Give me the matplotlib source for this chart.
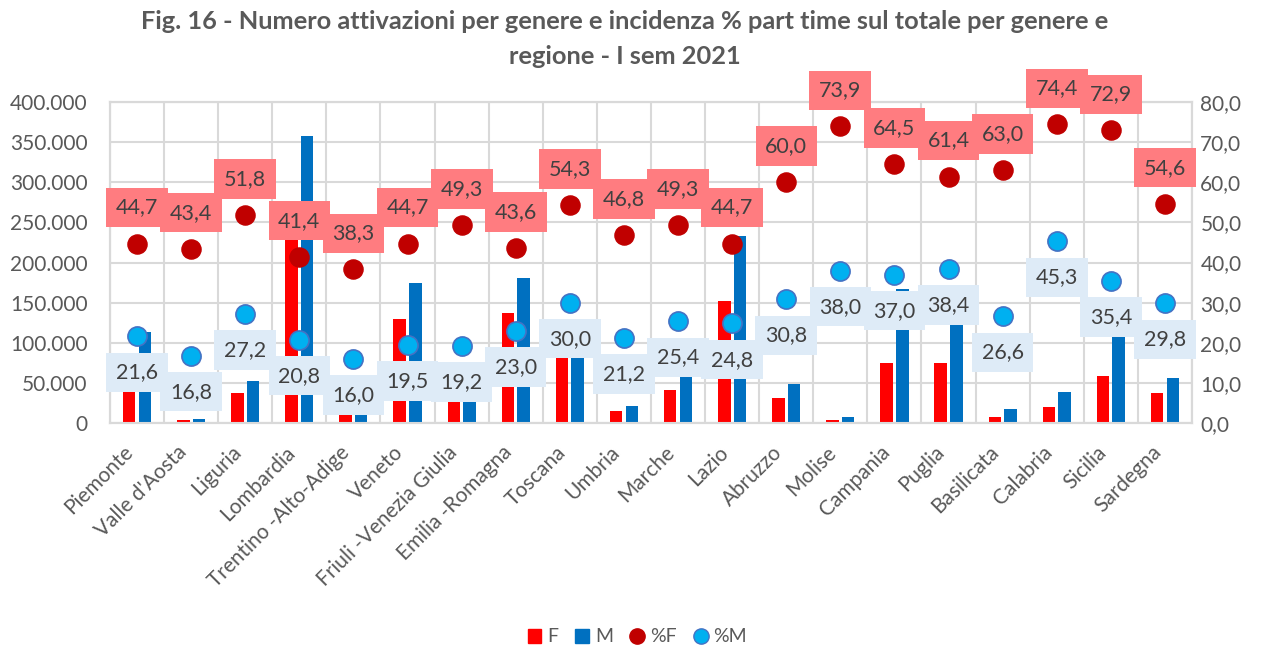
import numpy as np
import matplotlib.pyplot as plt
from matplotlib import ticker
from matplotlib.lines import Line2D
from matplotlib.patches import Patch

plt.rcParams['font.family'] = ['Lato', 'DejaVu Sans']

regioni = ['Piemonte', "Valle d'Aosta", 'Liguria', 'Lombardia', 'Trentino -Alto-Adige',
           'Veneto', 'Friuli -Venezia Giulia', 'Emilia -Romagna', 'Toscana', 'Umbria',
           'Marche', 'Lazio', 'Abruzzo', 'Molise', 'Campania', 'Puglia', 'Basilicata',
           'Calabria', 'Sicilia', 'Sardegna']
att_F = [40000, 3500, 37500, 235000, 12000, 129000, 28000, 137000, 85000, 15000,
         41500, 152500, 31000, 3700, 75000, 75000, 7500, 20000, 58500, 38000]
att_M = [113000, 5000, 52000, 358000, 14000, 174000, 30000, 181000, 90000, 21500,
         58000, 232500, 48000, 7000, 166500, 130000, 18000, 38500, 110000, 56000]
pt_F = [44.7, 43.4, 51.8, 41.4, 38.3, 44.7, 49.3, 43.6, 54.3, 46.8,
        49.3, 44.7, 60.0, 73.9, 64.5, 61.4, 63.0, 74.4, 72.9, 54.6]
pt_M = [21.6, 16.8, 27.2, 20.8, 16.0, 19.5, 19.2, 23.0, 30.0, 21.2,
        25.4, 24.8, 30.8, 38.0, 37.0, 38.4, 26.6, 45.3, 35.4, 29.8]

c_F = '#FF0000'
c_M = '#0070C0'
c_pF = '#C00000'
c_pM = '#00B0F0'
txt = '#595959'

fig = plt.figure(figsize=(12.67, 6.5), dpi=100)
ax = fig.add_axes([0.0868, 0.3492, 0.854, 0.4939])
ax2 = ax.twinx()

x = np.arange(len(regioni))
w = 0.23
ax.bar(x - 0.145, att_F, w, color=c_F, zorder=3)
ax.bar(x + 0.145, att_M, w, color=c_M, zorder=3)

ax.set_xlim(-0.5, len(regioni) - 0.5)
ax.set_ylim(0, 400000)
ax2.set_ylim(0, 80)
ax.yaxis.set_major_locator(ticker.MultipleLocator(50000))
ax2.yaxis.set_major_locator(ticker.MultipleLocator(10))
ax.yaxis.set_major_formatter(ticker.FuncFormatter(lambda v, p: f'{int(v):,}'.replace(',', '.')))
ax2.yaxis.set_major_formatter(ticker.FuncFormatter(lambda v, p: f'{v:.1f}'.replace('.', ',')))

# grid: horizontal at ticks, vertical between categories
ax.set_xticks(x)
ax.set_xticks(np.arange(len(regioni) + 1) - 0.5, minor=True)
ax.grid(True, which='major', axis='y', color='#D9D9D9', lw=1.5, zorder=0)
ax.grid(True, which='minor', axis='x', color='#D9D9D9', lw=1.5, zorder=0)
ax.set_xticklabels(regioni, rotation=45, ha='right', va='bottom', rotation_mode='anchor',
                   fontsize=15, color=txt)
ax.tick_params(axis='x', which='both', length=0, pad=24)
ax.tick_params(axis='y', length=0, labelsize=15, labelcolor=txt, pad=16)
ax2.tick_params(axis='y', length=0, labelsize=15, labelcolor=txt, pad=6)
for a in (ax, ax2):
    for s in a.spines.values():
        s.set_color('#D9D9D9')
        s.set_linewidth(1.5)

ax2.scatter(x, pt_F, s=190, color=c_pF, zorder=4)
ax2.scatter(x, pt_M, s=190, color=c_pM, edgecolor='#4472C4', linewidth=1.2, zorder=4)

for xi, v in zip(x, pt_F):
    ax2.annotate(f'{v:.1f}'.replace('.', ','), (xi, v), xytext=(0, 26), textcoords='offset points',
                 ha='center', va='center', fontsize=15.5, color='#404040', zorder=5,
                 bbox=dict(boxstyle='square,pad=0.45', fc='#FF7C80', ec='none'))
for xi, v in zip(x, pt_M):
    ax2.annotate(f'{v:.1f}'.replace('.', ','), (xi, v), xytext=(0, -26), textcoords='offset points',
                 ha='center', va='center', fontsize=15.5, color='#404040', zorder=5,
                 bbox=dict(boxstyle='square,pad=0.45', fc='#DEEBF7', ec='none'))

fig.suptitle('Fig. 16 - Numero attivazioni per genere e incidenza % part time sul totale per genere e\nregione - I sem 2021',
             x=0.493, y=0.985, fontsize=18.3, fontweight='bold', color=txt, linespacing=1.65)

handles = [Patch(color=c_F), Patch(color=c_M),
           Line2D([], [], ls='none', marker='o', ms=11, color=c_pF),
           Line2D([], [], ls='none', marker='o', ms=11, mfc=c_pM, mec='#4472C4')]
leg = fig.legend(handles, ['F', 'M', '%F', '%M'], loc='center', bbox_to_anchor=(0.503, 0.02),
                 ncol=4, frameon=False, fontsize=14, handlelength=0.7, handleheight=0.7,
                 handletextpad=0.3, columnspacing=0.9)
for t in leg.get_texts():
    t.set_color(txt)

fig.savefig('out.png', dpi=100)
